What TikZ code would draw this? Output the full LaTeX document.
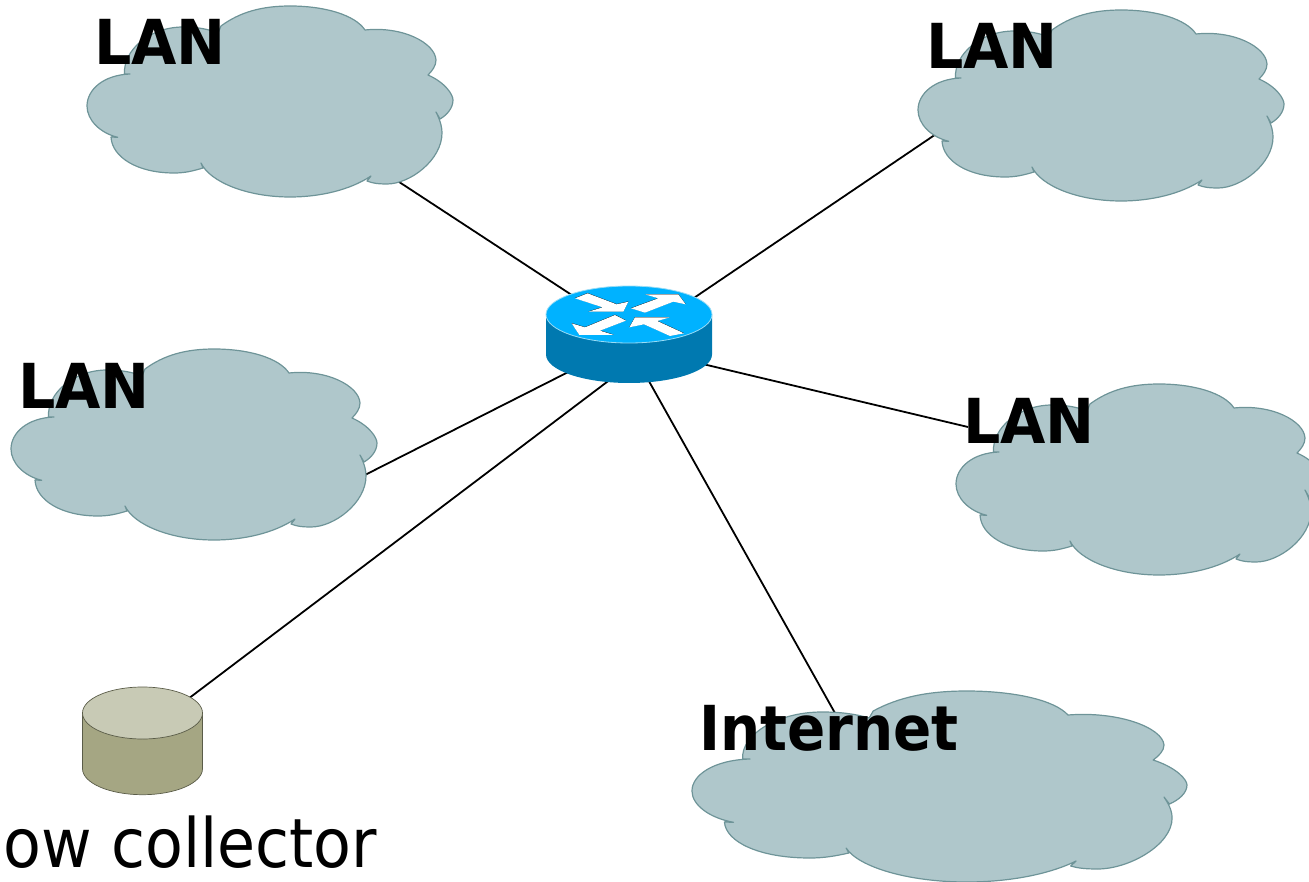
\documentclass[tikz,border=0pt]{standalone}
\usepackage{fontspec}
\newfontfamily\netfont[FakeStretch=0.91]{DejaVu Sans}
\newfontfamily\lanfont[FakeStretch=0.945]{DejaVu Sans}
\definecolor{cloudfill}{HTML}{AFC7CB}
\definecolor{cloudline}{HTML}{6E9498}
\definecolor{routertop}{HTML}{00B2FF}
\definecolor{routerside}{HTML}{0079B0}
\definecolor{routeredge}{HTML}{9ADCF5}
\definecolor{storetop}{HTML}{C8CAB5}
\definecolor{storeside}{HTML}{A5A683}
\definecolor{storeedge}{HTML}{5A5C48}
\newcommand{\routerarrow}[1]{
    \fill[black,yshift=.9pt] #1 -- cycle;
    \fill[white] #1 -- cycle;
}
\begin{document}
\begin{tikzpicture}[
        x = 1pt,
        y = -1pt,
        link/.style = {black, line width=1.8pt},
        hub/.style = {inner sep=0, minimum width=100pt, minimum height=50pt},
        lanlabel/.style = {anchor=base west, inner sep=0, font=\lanfont\bfseries\fontsize{62}{70}\selectfont},
        biglabel/.style = {anchor=base west, inner sep=0, font=\netfont\bfseries\fontsize{62}{70}\selectfont},
        lightlabel/.style = {anchor=base west, inner sep=0, font=\netfont\fontsize{68}{76}\selectfont},
        netcloud/.pic = {
            \draw[fill=cloudfill, draw=cloudline, line width=1.2pt, line join=round]
                (130,74) -- (124.5,74) .. controls (123,50) and (150,27) .. (183,27)
                .. controls (197,27) and (208,29) .. (218,33)
                -- (221,26) .. controls (240,12) and (262,6) .. (290,6)
                .. controls (325,6) and (355,15) .. (365,30)
                .. controls (403,26) and (435,43) .. (436,60)
                .. controls (436,66) and (432,71) .. (428,75)
                .. controls (446,83) and (453,95) .. (453,100)
                .. controls (453,108) and (447,115) .. (440,119)
                -- (436,112) .. controls (441,122) and (442,128) .. (442,133)
                .. controls (442,160) and (410,184) .. (387,184)
                .. controls (377,184) and (372,183) .. (367,181)
                -- (371,176) .. controls (350,190) and (320,197) .. (290,197)
                .. controls (247,197) and (210,182) .. (201,163)
                -- (203,168) .. controls (193,171) and (185,173) .. (174,173)
                .. controls (137,173) and (112,157) .. (111,137)
                -- (117.7,137.3) .. controls (100,133) and (87,120) .. (87,106)
                .. controls (87,90) and (103,75) .. (130,74) -- cycle;
        }
    ]
        \useasboundingbox (0,0) rectangle (1309,882);

        \node[hub] (router) at (629,335) {};
        \node[inner sep=0, minimum width=121pt, minimum height=80pt] (collector) at (142.5,741) {};
        \coordinate (endNW) at (390,176);
        \coordinate (endNE) at (945,128);
        \coordinate (endW) at (355,480);
        \coordinate (endE) at (968,427);
        \coordinate (endNet) at (840,722);

        \draw[link] (router.144.5) -- (endNW);
        \draw[link] (router.28) -- (endNE);
        \draw[link] (router.214.5) -- (endW);
        \draw[link] (router.-25.3) -- (endE);
        \draw[link] (router.-72) -- (endNet);
        \draw[link] (router.-75.6) -- (collector.43.5);

        \pic {netcloud};
        \pic[shift={(831,4)}] {netcloud};
        \pic[shift={(-76,343)}] {netcloud};
        \pic[shift={(869,378)}] {netcloud};
        \pic[shift={(574.3,685)}, xscale=1.3525] {netcloud};

        \begin{scope}[shift={(629,0)}]
            \fill[routerside] (-83,314.5) -- (-83,354.5) arc (180:0:83 and 28.5) -- (83,314.5) -- cycle;
            \draw[fill=routertop, draw=routeredge, line width=.8pt] (0,314.5) ellipse (83 and 28.5);
        \end{scope}
        \begin{scope}[shift={(520,270)}, scale=1/3]
            \routerarrow{(165,85) -- (203,70) -- (290,103) -- (325,95) -- (310,125) -- (205,125) -- (248,112)}
            \routerarrow{(333,115) -- (415,85) -- (375,73) -- (475,73) -- (497,103) -- (460,95) -- (375,128)}
            \routerarrow{(155,160) -- (195,172) -- (285,135) -- (318,152) -- (240,182) -- (282,195) -- (178,195)}
            \routerarrow{(328,172) -- (345,142) -- (450,142) -- (412,153) -- (492,190) -- (450,198) -- (372,163)}
        \end{scope}

        \begin{scope}[shift={(142.5,0)}, draw=storeedge, line width=.7pt]
            \draw[fill=storeside] (-60,713) -- (-60,768.7) arc (180:0:60 and 26) -- (60,713) -- cycle;
            \draw[fill=storetop] (0,713) ellipse (60 and 26);
        \end{scope}

        \node[lanlabel] (lanNW) at (94,65) {LAN};
        \node[lanlabel] (lanNE) at (926,69) {LAN};
        \node[lanlabel] (lanW) at (18,408) {LAN};
        \node[lanlabel] (lanE) at (963,443) {LAN};
        \node[biglabel] (internet) at (699,750) {Internet};
        \node[lightlabel] (flowlabel) at (3,867) {ow collector};
    \end{tikzpicture}
\end{document}
